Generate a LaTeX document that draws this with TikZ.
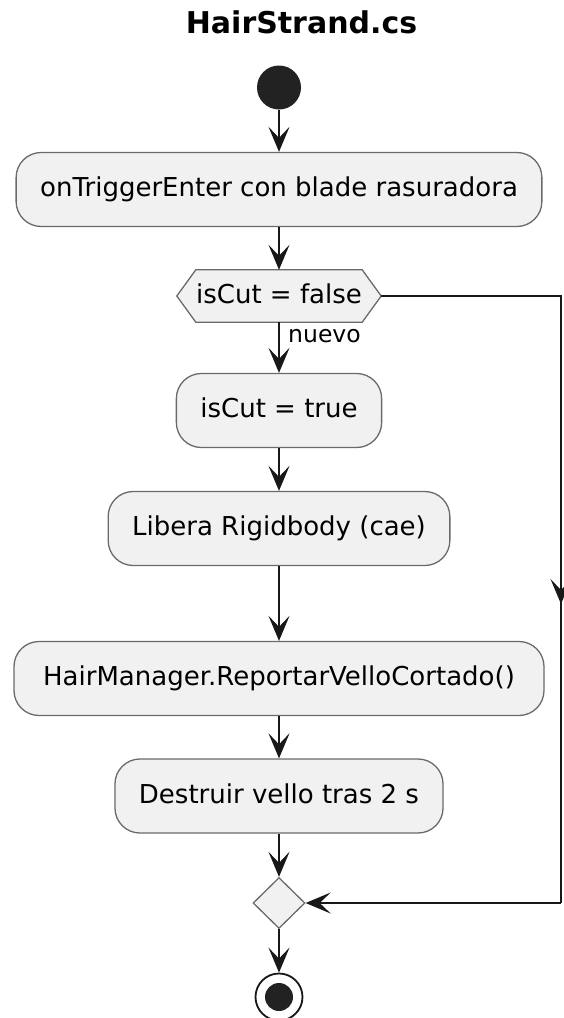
\documentclass[tikz,border=0pt]{standalone}
\usepackage{fontspec}
\setmainfont{DejaVu Sans}
\usetikzlibrary{arrows.meta,shapes.geometric,backgrounds}

\definecolor{boxfill}{HTML}{F1F1F1}
\definecolor{boxline}{HTML}{6A6A6A}
\definecolor{ink}{HTML}{181818}
\definecolor{dot}{HTML}{222222}

\tikzset{
  x=1pt, y=-1pt,
  tip/.tip={Stealth[length=25pt,width=21pt,inset=11pt]},
  flow/.style={draw=ink, line width=2pt, -tip},
  plain/.style={draw=ink, line width=2pt},
  action/.style={draw=boxline, line width=1.3pt, fill=boxfill, rounded corners=25pt,
    font=\fontsize{26}{30}\selectfont, text=black, inner xsep=24pt, inner ysep=0pt,
    minimum height=74pt, text height=19pt, text depth=5pt},
  hextext/.style={font=\fontsize{26}{30}\selectfont, text=black, inner sep=0pt,
    minimum width=166pt, minimum height=52pt, text height=19pt, text depth=5pt},
  hexshape/.style={draw=boxline, line width=1.3pt, fill=boxfill},
  merge/.style={diamond, draw=boxline, line width=1.3pt, fill=boxfill, inner sep=0pt,
    minimum width=52pt, minimum height=51pt},
  lbl/.style={font=\fontsize{23.5}{27}\selectfont, text=black, inner sep=0pt},
}

\begin{document}
\begin{tikzpicture}
\useasboundingbox (0,0) rectangle (563,1018);

% title
\node[font=\bfseries\fontsize{30}{34}\selectfont, anchor=base, inner sep=0pt] (title) at (301.5,33) {HairStrand.cs};

% start
\node[circle, fill=dot, minimum size=44pt, inner sep=0pt] (start) at (279,87.5) {};

% actions
\node[action] (b1) at (279,189.5) {onTriggerEnter con blade rasuradora};
\node[hextext] (dec) at (279,296) {isCut = false};
\begin{scope}[on background layer]
  \draw[hexshape] ([xshift=-19pt]dec.west) -- (dec.north west) -- (dec.north east)
    -- ([xshift=19pt]dec.east) -- (dec.south east) -- (dec.south west) -- cycle;
\end{scope}
\coordinate (decR) at ([xshift=19pt]dec.east);

\node[action] (b2) at (279,410.5) {isCut = true};
\node[action] (b3) at (279,528.5) {Libera Rigidbody (cae)};
\node[action, minimum width=530pt] (b4) at (279,678.5) {HairManager.ReportarVelloCortado()};
\node[action] (b5) at (279,796) {Destruir vello tras 2 s};

% merge and end
\node[merge] (mg) at (279,903) {};
\node[circle, draw=ink, line width=1.8pt, fill=white, minimum size=47pt, inner sep=0pt] (stop) at (279,997) {};
\node[circle, fill=dot, minimum size=28pt, inner sep=0pt] (stopdot) at (stop.center) {};

% main flow
\draw[flow] (start) -- (b1);
\draw[flow] (b1) -- (dec.north);
\draw[flow] (dec.south) -- (b2);
\node[lbl, anchor=base west] (nuevo) at (288,342) {nuevo};
\draw[flow] (b2) -- (b3);
\draw[flow] (b3) -- (b4);
\draw[flow] (b4) -- (b5);
\draw[flow] (b5) -- (mg.north);
\draw[flow] (mg.south) -- (stop.north);

% skip branch on the right
\coordinate (rt) at (561,296);
\coordinate (rm) at (561,604);
\coordinate (rb) at (561,903);
\draw[plain] (decR) -- (rt) -- (rb);
\draw[flow] (rt) -- (rm);
\draw[flow] (rb) -- (mg.east);
\end{tikzpicture}
\end{document}
